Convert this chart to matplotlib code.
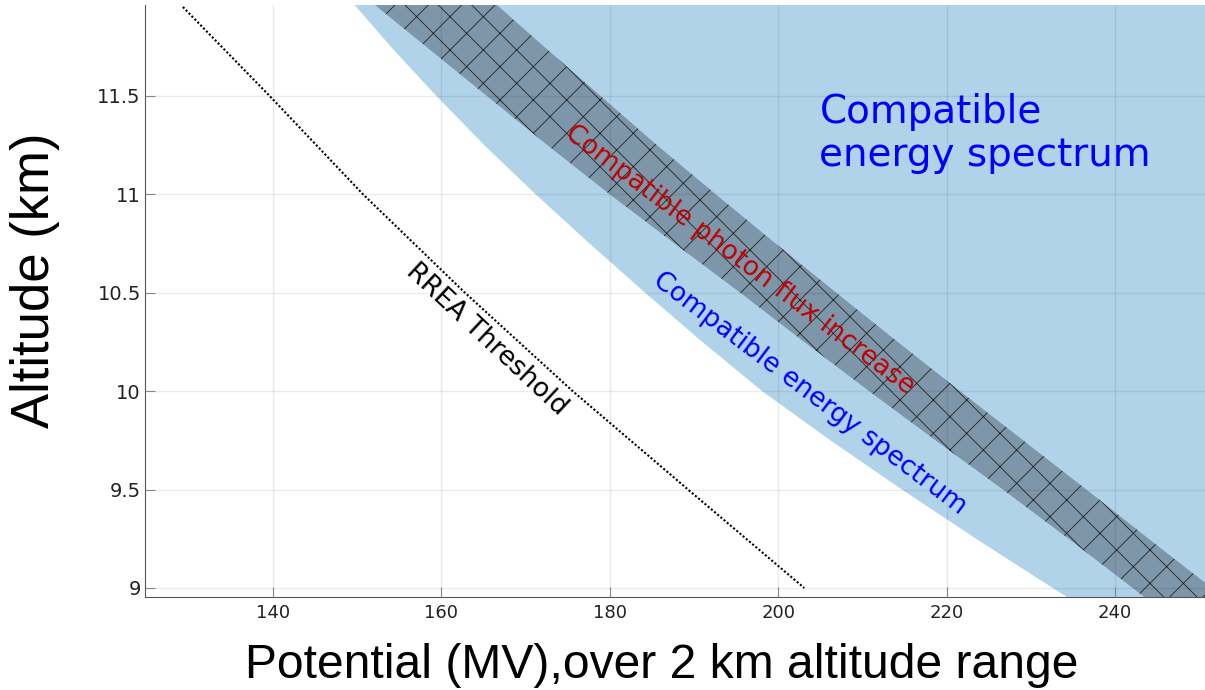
import numpy as np
import matplotlib
matplotlib.use("Agg")
import matplotlib.pyplot as plt

# altitude samples (km) shared by the region boundaries
alt = [11.962, 11.75, 11.5, 11.25, 11.0, 10.75, 10.5, 10.25, 10.0, 9.75, 9.5, 9.25, 9.0, 8.954]
# left edge of the "compatible energy spectrum" region (MV)
spec_left = [149.7, 154.0, 159.4, 165.1, 171.2, 177.6, 184.2, 191.0, 198.1, 206.2, 214.7,
             223.5, 232.6, 234.3]
# edges of the "compatible photon flux increase" band (MV)
flux_low = [152.1, 158.2, 165.4, 172.6, 180.0, 187.7, 195.5, 203.1, 210.8, 218.7, 226.7,
            234.5, 242.1, 243.5]
flux_high = [166.6, 172.2, 178.9, 185.6, 192.6, 199.7, 206.9, 214.2, 221.6, 229.1, 236.6,
             244.0, 251.5, 252.9]

# RREA threshold line
rrea_alt = [11.952, 11.5, 11.0, 10.5, 10.0, 9.5, 9.0]
rrea_pot = [129.3, 139.6, 150.7, 162.8, 175.6, 189.3, 203.1]

xticks = [140, 160, 180, 200, 220, 240]
yticks = [9, 9.5, 10, 10.5, 11, 11.5]
ytick_labels = ["9", "9.5", "10", "10.5", "11", "11.5"]

plt.rcParams['font.family'] = ['DejaVu Sans']
plt.rcParams['hatch.linewidth'] = 0.6

fig = plt.figure(figsize=(12.05, 6.9), dpi=100)
ax = fig.add_axes([145/1205, 1-597/690, 1-145/1205, (597-5)/690])

ax.fill_betweenx(alt, spec_left, 300, color='#b0d3e9', lw=0, zorder=1)
ax.fill_betweenx(alt, flux_low, flux_high, facecolor='#7e96a9', edgecolor='#222222',
                 hatch='x', lw=0, zorder=1.5)
ax.plot(rrea_pot, rrea_alt, color='black', lw=1.5, ls=(0, (1, 1)), zorder=2)

ax.text(204.9, 11.31, "Compatible\nenergy spectrum", color='#0000ff', fontsize=28,
        ha='left', va='center', linespacing=1.15)
ax.text(203.8, 9.99, "Compatible energy spectrum", color='#0000ff', fontsize=19,
        rotation=-37, rotation_mode='anchor', ha='center', va='center')
ax.text(195.4, 10.667, "Compatible photon flux increase", color='#c00000', fontsize=19,
        rotation=-37, rotation_mode='anchor', ha='center', va='center')
ax.text(165.4, 10.26, "RREA Threshold", color='black', fontsize=19,
        rotation=-43, rotation_mode='anchor', ha='center', va='center')

ax.set_xlim(124.8, 250.7)
ax.set_ylim(8.954, 11.962)
ax.set_xticks(xticks)
ax.set_yticks(yticks)
ax.set_yticklabels(ytick_labels)
ax.grid(True, color='black', alpha=0.08, lw=1)
ax.set_axisbelow(False)
ax.tick_params(direction='in', length=7, color='#888888', labelcolor='#222222')
ax.tick_params(axis='x', labelsize=13, pad=5)
ax.tick_params(axis='y', labelsize=14, pad=3)
for s in ['top', 'right']:
    ax.spines[s].set_visible(False)
for s in ['left', 'bottom']:
    ax.spines[s].set_color('#555555')

ax.set_xlabel("Potential (MV),over 2 km altitude range", fontsize=34.6,
              family='Liberation Sans')
ax.xaxis.set_label_coords(0.487, -0.077)
ax.set_ylabel("Altitude (km)", fontsize=38, family='Liberation Sans')
ax.yaxis.set_label_coords(-0.08, 0.535)

fig.savefig("out.png", dpi=100)
